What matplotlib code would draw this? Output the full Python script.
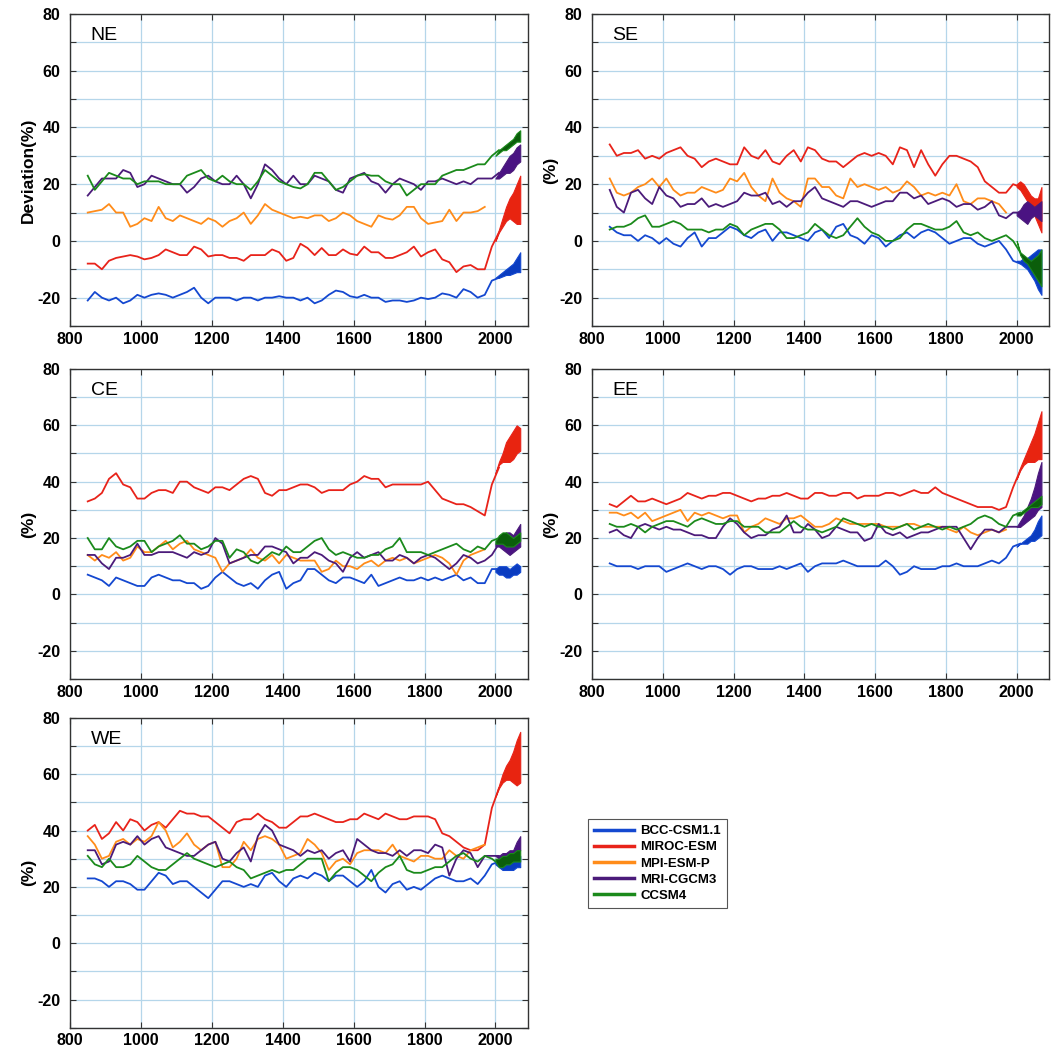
import numpy as np
import matplotlib.pyplot as plt

plt.rcParams['font.family'] = ['Liberation Sans', 'DejaVu Sans']
plt.rcParams['axes.unicode_minus'] = False

years = np.arange(850, 2011, 20)      # historical, 850..2010
fut = np.arange(2000, 2071, 10)       # scenario band, 2000..2070

models = ['BCC-CSM1.1', 'MIROC-ESM', 'MPI-ESM-P', 'MRI-CGCM3', 'CCSM4']
colors = ['#1448d0', '#e8231a', '#ff8c1a', '#4b1b7a', '#1b8a1b']
band_colors = ['#0a3cc0', '#e82410', None, '#4a1382', '#0b5e0b']

# ---------------- NE ----------------
ne_bcc = [-21, -18, -20, -21, -20, -22, -21, -19, -20, -19,
          -18.5, -19, -20, -19, -18, -16.5, -20, -22, -20, -20,
          -20, -21, -20, -20, -21, -20, -20, -19.5, -20, -20,
          -21, -20, -22, -21, -19, -17.5, -18, -19.5, -20, -19,
          -20, -20, -21.5, -21, -21, -21.5, -21, -20, -20.5, -20,
          -18.5, -19, -20, -17, -18, -20, -19, -14, -13]
ne_miroc = [-8, -8, -10, -7, -6, -5.5, -5, -5.5, -6.5, -6,
            -5, -3, -4, -5, -5, -2, -3, -5.5, -5, -5,
            -6, -6, -7, -5, -5, -5, -3, -4, -7, -6,
            -1, -2.5, -5, -2.5, -5, -5, -3, -4.5, -5, -2,
            -4, -4, -6, -6, -5, -4, -2, -5.5, -4, -3,
            -6.5, -7.5, -11, -9, -8.5, -10, -10, -2, 3]
ne_mpi = [10, 10.5, 11, 13, 10, 10, 5, 6, 8, 7,
          12, 8, 7, 9, 8, 7, 6, 8, 7, 5,
          7, 8, 10, 6, 9, 13, 11, 10, 9, 8,
          8.5, 8, 9, 9, 7, 8, 10, 9, 7, 6,
          5, 9, 8, 7.5, 9, 12, 12, 8, 6, 6.5,
          7, 11, 7, 10, 10, 10.5, 12]
ne_mri = [16, 19, 22, 22, 22, 25, 24, 19, 20, 23,
          22, 21, 20, 20, 17, 19, 22, 23, 21, 20,
          20, 23, 20, 15, 20, 27, 25, 22, 20, 23,
          20, 20, 23, 22, 21, 18, 17, 22, 23, 24,
          21, 20, 17, 20, 22, 21, 20, 18, 21, 21,
          22, 21, 20, 21, 20, 22, 22, 22, 24]
ne_ccsm4 = [23, 18, 21, 24, 23, 22, 22, 20, 21, 21,
            21, 20, 20, 20, 23, 24, 25, 22, 21, 23,
            21, 20, 20, 18, 21, 25, 23, 21, 20, 19,
            18.5, 20, 24, 24, 21, 18, 19, 21, 23, 23.5,
            23, 23, 21, 20, 20, 16, 18, 20, 20, 20,
            23, 24, 25, 25, 26, 27, 27, 30, 32]
ne_bcc_lo = [-13, -13, -12.5, -12, -12, -11.5, -11, -11]
ne_bcc_hi = [-13, -12, -11, -10, -9, -8, -6, -4]
ne_miroc_lo = [0, 3, 5, 7, 8, 7, 6, 6]
ne_miroc_hi = [0, 4, 8, 12, 15, 17, 20, 23]
ne_mri_lo = [22, 22, 23, 24, 24, 25, 27, 28]
ne_mri_hi = [22, 24, 26, 28, 30, 31, 33, 34]
ne_ccsm4_lo = [30, 31, 32, 32, 33, 34, 35, 35]
ne_ccsm4_hi = [30, 32, 33, 34, 35, 36, 38, 39]

# ---------------- SE ----------------
se_bcc = [5, 3, 2, 2, 0, 2, 1, -1, 1, -1,
          -2, 1, 3, -2, 1, 1, 3, 5, 4, 2,
          1, 3, 4, 0, 3, 3, 2, 1, 0, 3,
          4, 1, 5, 6, 2, 1, -1, 2, 1, -2,
          0, 2, 3, 1, 3, 4, 3, 1, -1, 0,
          1, 1, -1, -2, -1, 0, -3, -7, -8]
se_miroc = [34, 30, 31, 31, 32, 29, 30, 29, 31, 32,
            33, 30, 29, 26, 28, 29, 28, 27, 27, 33,
            30, 29, 32, 28, 27, 30, 32, 28, 33, 32,
            29, 28, 28, 26, 28, 30, 31, 30, 31, 30,
            27, 33, 32, 26, 32, 27, 23, 27, 30, 30,
            29, 28, 26, 21, 19, 17, 17, 20, 19]
se_mpi = [22, 17, 16, 17, 19, 20, 22, 19, 22, 18,
          16, 17, 17, 19, 18, 17, 18, 22, 21, 24,
          19, 16, 14, 22, 17, 15, 14, 12, 22, 22,
          19, 19, 16, 15, 22, 19, 20, 19, 18, 19,
          17, 18, 21, 19, 16, 17, 16, 17, 16, 20,
          14, 13, 15, 15, 14, 13, 10]
se_mri = [18, 12, 10, 17, 18, 15, 13, 19, 16, 15,
          12, 13, 13, 15, 12, 13, 12, 13, 14, 17,
          16, 16, 17, 13, 14, 12, 14, 14, 17, 19,
          15, 14, 13, 12, 14, 14, 13, 12, 13, 14,
          14, 17, 17, 15, 16, 13, 14, 15, 14, 12,
          13, 13, 11, 12, 14, 9, 8, 10, 10]
se_ccsm4 = [4, 5, 5, 6, 8, 9, 5, 5, 6, 7,
            6, 4, 4, 4, 3, 4, 4, 6, 5, 2,
            4, 5, 6, 6, 4, 1, 1, 2, 3, 6,
            4, 2, 1, 2, 5, 8, 5, 3, 2, 0,
            0, 1, 4, 6, 6, 5, 4, 4, 5, 7,
            3, 2, 3, 1, 0, 1, 2, 0, -4]
se_bcc_lo = [-7, -8, -9, -10, -12, -14, -17, -19]
se_bcc_hi = [-7, -7, -6, -6, -5, -4, -3, -3]
se_miroc_lo = [19, 18, 16, 14, 12, 9, 6, 3]
se_miroc_hi = [20, 21, 20, 18, 16, 15, 15, 19]
se_mri_lo = [9, 8, 7, 6, 8, 9, 8, 7]
se_mri_hi = [10, 11, 13, 14, 13, 12, 13, 14]
se_ccsm4_lo = [0, -5, -7, -8, -10, -12, -14, -16]
se_ccsm4_hi = [0, -4, -5, -6, -7, -6, -5, -3]

# ---------------- CE ----------------
ce_bcc = [7, 6, 5, 3, 6, 5, 4, 3, 3, 6,
          7, 6, 5, 5, 4, 4, 2, 3, 6, 8,
          6, 4, 3, 4, 2, 5, 7, 8, 2, 4,
          5, 9, 9, 7, 5, 4, 6, 6, 5, 4,
          7, 3, 4, 5, 6, 5, 5, 6, 5, 6,
          5, 6, 7, 5, 6, 4, 4, 9, 9]
ce_miroc = [33, 34, 36, 41, 43, 39, 38, 34, 34, 36,
            37, 37, 36, 40, 40, 38, 37, 36, 38, 38,
            37, 39, 41, 42, 41, 36, 35, 37, 37, 38,
            39, 39, 38, 36, 37, 37, 37, 39, 40, 42,
            41, 41, 38, 39, 39, 39, 39, 39, 40, 37,
            34, 33, 32, 32, 31, 29.5, 28, 39, 45]
ce_mpi = [14, 12, 14, 13, 15, 12, 13, 17, 15, 15,
          17, 19, 16, 18, 19, 16, 15, 14, 13, 8,
          11, 12, 13, 16, 13, 12, 14, 11, 14, 13,
          12, 12, 12, 8, 9, 12, 10, 10, 9, 11,
          12, 10, 12, 13, 12, 13, 11, 12, 13, 14,
          13, 11, 7, 12, 14, 15, 16]
ce_mri = [14, 14, 11, 9, 13, 13, 14, 18, 14, 14,
          15, 15, 15, 14, 13, 15, 14, 15, 20, 18,
          11, 12, 13, 14, 14, 17, 17, 16, 15, 11,
          13, 13, 15, 14, 12, 11, 8, 13, 15, 13,
          14, 15, 12, 12, 14, 13, 11, 13, 14, 13,
          11, 9, 11, 14, 13, 11, 12, 14, 18]
ce_ccsm4 = [20, 16, 16, 20, 17, 16, 17, 19, 19, 15,
            17, 18, 19, 21, 18, 18, 16, 17, 19, 19,
            13, 16, 15, 12, 11, 13, 15, 14, 17, 15,
            15, 17, 19, 20, 16, 14, 15, 14, 13, 13,
            14, 14, 16, 17, 20, 15, 15, 15, 14, 15,
            16, 17, 18, 16, 15, 17, 16, 19, 20]
ce_bcc_lo = [8, 7, 7, 6, 6, 7, 7, 8]
ce_bcc_hi = [9, 10, 10, 10, 9, 10, 11, 10]
ce_miroc_lo = [43, 46, 47, 47, 47, 48, 50, 51]
ce_miroc_hi = [43, 47, 50, 54, 56, 58, 60, 59]
ce_mri_lo = [17, 17, 16, 15, 14, 15, 16, 17]
ce_mri_hi = [18, 19, 21, 22, 22, 21, 23, 25]
ce_ccsm4_lo = [18, 18, 18, 17, 17, 17, 18, 19]
ce_ccsm4_hi = [19, 21, 22, 22, 21, 20, 21, 22]

# ---------------- EE ----------------
ee_bcc = [11, 10, 10, 10, 9, 10, 10, 10, 8, 9,
          10, 11, 10, 9, 10, 10, 9, 7, 9, 10,
          10, 9, 9, 9, 10, 9, 10, 11, 8, 10,
          11, 11, 11, 12, 11, 10, 10, 10, 10, 12,
          10, 7, 8, 10, 9, 9, 9, 10, 10, 11,
          10, 10, 10, 11, 12, 11, 13, 17, 18]
ee_miroc = [32, 31, 33, 35, 33, 33, 34, 33, 32, 33,
            34, 36, 35, 34, 35, 35, 36, 36, 35, 34,
            33, 34, 34, 35, 35, 36, 35, 34, 34, 36,
            36, 35, 35, 36, 36, 34, 35, 35, 35, 36,
            36, 35, 36, 37, 36, 36, 38, 36, 35, 34,
            33, 32, 31, 31, 31, 30, 31, 38, 44]
ee_mpi = [29, 29, 28, 29, 27, 29, 26, 27, 28, 29,
          30, 26, 29, 28, 29, 28, 27, 28, 28, 22,
          24, 25, 27, 26, 25, 27, 27, 28, 26, 24,
          24, 25, 27, 26, 25, 25, 25, 25, 25, 24,
          24, 24, 25, 25, 24, 24, 24, 24, 23, 22,
          24, 22, 21, 22, 23, 22, 23]
ee_mri = [22, 23, 21, 20, 24, 25, 24, 23, 24, 23,
          23, 22, 21, 21, 20, 20, 24, 27, 25, 22,
          20, 21, 21, 23, 24, 28, 22, 22, 25, 23,
          20, 21, 24, 23, 22, 22, 19, 20, 25, 22,
          21, 22, 20, 21, 22, 22, 23, 24, 24, 24,
          20, 16, 20, 23, 23, 22, 24, 24, 24]
ee_ccsm4 = [25, 24, 24, 25, 24, 22, 24, 25, 26, 26,
            25, 24, 26, 27, 26, 25, 25, 26, 26, 24,
            24, 24, 22, 22, 22, 24, 26, 24, 23, 23,
            22, 23, 24, 27, 26, 25, 24, 25, 24, 24,
            23, 24, 25, 23, 24, 25, 24, 23, 24, 23,
            24, 25, 27, 28, 27, 25, 24, 28, 29]
ee_bcc_lo = [17, 18, 18, 18, 19, 19, 20, 21]
ee_bcc_hi = [17, 18, 19, 20, 21, 23, 26, 28]
ee_miroc_lo = [41, 44, 46, 47, 47, 47, 48, 48]
ee_miroc_hi = [41, 45, 48, 51, 54, 57, 61, 65]
ee_mri_lo = [24, 24, 25, 26, 27, 28, 30, 31]
ee_mri_hi = [24, 26, 28, 31, 34, 38, 43, 47]
ee_ccsm4_lo = [28, 28, 29, 30, 31, 31, 31, 32]
ee_ccsm4_hi = [29, 29, 30, 31, 32, 33, 34, 35]

# ---------------- WE ----------------
we_bcc = [23, 23, 22, 20, 22, 22, 21, 19, 19, 22,
          25, 24, 21, 22, 22, 20, 18, 16, 19, 22,
          22, 21, 20, 21, 20, 24, 25, 22, 20, 23,
          24, 23, 25, 24, 22, 24, 24, 22, 20, 22,
          26, 20, 18, 21, 22, 19, 20, 19, 21, 23,
          24, 23, 22, 22, 23, 21, 24, 28, 29]
we_miroc = [40, 42, 37, 39, 43, 40, 44, 43, 40, 42,
            43, 41, 44, 47, 46, 46, 45, 45, 43, 41,
            39, 43, 44, 44, 46, 44, 43, 41, 41, 43,
            45, 45, 46, 45, 44, 43, 43, 44, 44, 46,
            45, 44, 46, 45, 44, 44, 45, 45, 45, 44,
            39, 38, 36, 34, 33, 33, 35, 48, 55]
we_mpi = [38, 35, 30, 31, 36, 37, 35, 37, 36, 38,
          43, 40, 34, 36, 39, 35, 33, 35, 36, 27,
          27, 30, 36, 33, 37, 38, 37, 35, 30, 31,
          32, 37, 35, 32, 26, 29, 30, 28, 32, 33,
          33, 33, 32, 35, 31, 30, 29, 31, 31, 30,
          30, 33, 31, 30, 33, 34, 35]
we_mri = [33, 33, 28, 29, 35, 36, 35, 38, 35, 37,
          38, 34, 33, 32, 31, 31, 33, 35, 36, 30,
          29, 32, 34, 29, 38, 42, 40, 35, 34, 33,
          31, 33, 32, 33, 30, 32, 33, 29, 37, 35,
          33, 32, 32, 31, 33, 31, 33, 33, 32, 35,
          34, 24, 30, 33, 32, 27, 31, 31, 31]
we_ccsm4 = [31, 28, 27, 30, 27, 27, 28, 31, 29, 27,
            26, 26, 28, 30, 32, 30, 29, 28, 27, 28,
            29, 27, 26, 23, 24, 25, 26, 25, 26, 26,
            28, 30, 30, 30, 22, 25, 27, 27, 26, 24,
            22, 25, 27, 28, 31, 26, 25, 25, 26, 27,
            27, 29, 31, 32, 30, 29, 31, 30, 28]
we_bcc_lo = [28, 27, 26, 26, 26, 26, 27, 27]
we_bcc_hi = [29, 29, 29, 29, 30, 30, 30, 31]
we_miroc_lo = [52, 55, 57, 58, 58, 57, 56, 57]
we_miroc_hi = [52, 56, 60, 63, 65, 68, 72, 75]
we_mri_lo = [31, 30, 30, 30, 30, 31, 32, 33]
we_mri_hi = [31, 31, 32, 32, 33, 33, 36, 38]
we_ccsm4_lo = [29, 27, 27, 28, 28, 29, 29, 29]
we_ccsm4_hi = [30, 30, 31, 31, 32, 32, 33, 33]

panels = [
    ('NE', 'Deviation(%)', [ne_bcc, ne_miroc, ne_mpi, ne_mri, ne_ccsm4],
     [(ne_bcc_lo, ne_bcc_hi), (ne_miroc_lo, ne_miroc_hi), None,
      (ne_mri_lo, ne_mri_hi), (ne_ccsm4_lo, ne_ccsm4_hi)]),
    ('SE', '(%)', [se_bcc, se_miroc, se_mpi, se_mri, se_ccsm4],
     [(se_bcc_lo, se_bcc_hi), (se_miroc_lo, se_miroc_hi), None,
      (se_mri_lo, se_mri_hi), (se_ccsm4_lo, se_ccsm4_hi)]),
    ('CE', '(%)', [ce_bcc, ce_miroc, ce_mpi, ce_mri, ce_ccsm4],
     [(ce_bcc_lo, ce_bcc_hi), (ce_miroc_lo, ce_miroc_hi), None,
      (ce_mri_lo, ce_mri_hi), (ce_ccsm4_lo, ce_ccsm4_hi)]),
    ('EE', '(%)', [ee_bcc, ee_miroc, ee_mpi, ee_mri, ee_ccsm4],
     [(ee_bcc_lo, ee_bcc_hi), (ee_miroc_lo, ee_miroc_hi), None,
      (ee_mri_lo, ee_mri_hi), (ee_ccsm4_lo, ee_ccsm4_hi)]),
    ('WE', '(%)', [we_bcc, we_miroc, we_mpi, we_mri, we_ccsm4],
     [(we_bcc_lo, we_bcc_hi), (we_miroc_lo, we_miroc_hi), None,
      (we_mri_lo, we_mri_hi), (we_ccsm4_lo, we_ccsm4_hi)]),
]

# axes boxes in figure fractions
col_x = [(0.0666, 0.4358), (0.5633, 0.4350)]
row_y = [(0.6901, 0.2966), (0.3546, 0.2947), (0.0230, 0.2947)]
slots = [(0, 0), (0, 1), (1, 0), (1, 1), (2, 0)]

fig = plt.figure(figsize=(10.51, 10.52), dpi=100)

for (name, ylab, series, bands), (r, c) in zip(panels, slots):
    ax = fig.add_axes([col_x[c][0], row_y[r][0], col_x[c][1], row_y[r][1]])
    for i in range(5):
        vals = series[i]
        ax.plot(years[:len(vals)], vals, color=colors[i], lw=1.3, zorder=3)
        if bands[i] is not None:
            lo, hi = bands[i]
            ax.fill_between(fut, lo, hi, color=band_colors[i], lw=0.8,
                            edgecolor=colors[i], zorder=4)
    ax.set_xlim(800, 2092)
    ax.set_ylim(-30, 80)
    ax.set_xticks(np.arange(800, 2001, 200))
    ax.set_yticks(np.arange(-20, 81, 20))
    ax.set_yticks(np.arange(-30, 81, 10), minor=True)
    ax.grid(True, which='major', color='#b5d6ea', lw=0.9, zorder=0)
    ax.grid(True, which='minor', axis='y', color='#b5d6ea', lw=0.9, zorder=0)
    ax.tick_params(which='both', direction='in', top=True, right=True,
                   length=4, width=0.8, color='#333333')
    ax.tick_params(which='major', labelsize=11.5)
    ax.tick_params(axis='x', which='major', pad=4)
    ax.tick_params(axis='y', which='major', pad=7)
    for lab in ax.get_xticklabels() + ax.get_yticklabels():
        lab.set_fontweight('bold')
    for sp in ax.spines.values():
        sp.set_color('#333333')
        sp.set_linewidth(1.0)
    ax.set_ylabel(ylab, fontsize=12.5, fontweight='bold', labelpad=1)
    ax.text(0.045, 0.93, name, transform=ax.transAxes, fontsize=14,
            va='center', ha='left')
    ax.set_axisbelow(True)

handles = [plt.Line2D([], [], color=colors[i], lw=2.5) for i in range(5)]
leg = fig.legend(handles, models, loc='upper left',
                 bbox_to_anchor=(0.5595, 0.2215), borderaxespad=0,
                 fancybox=False, edgecolor='#555555', framealpha=1,
                 handlelength=3.0, labelspacing=0.3, borderpad=0.45,
                 handletextpad=0.5, prop={'weight': 'bold', 'size': 9.5})
leg.get_frame().set_linewidth(0.8)

fig.savefig('out.png', dpi=100)
